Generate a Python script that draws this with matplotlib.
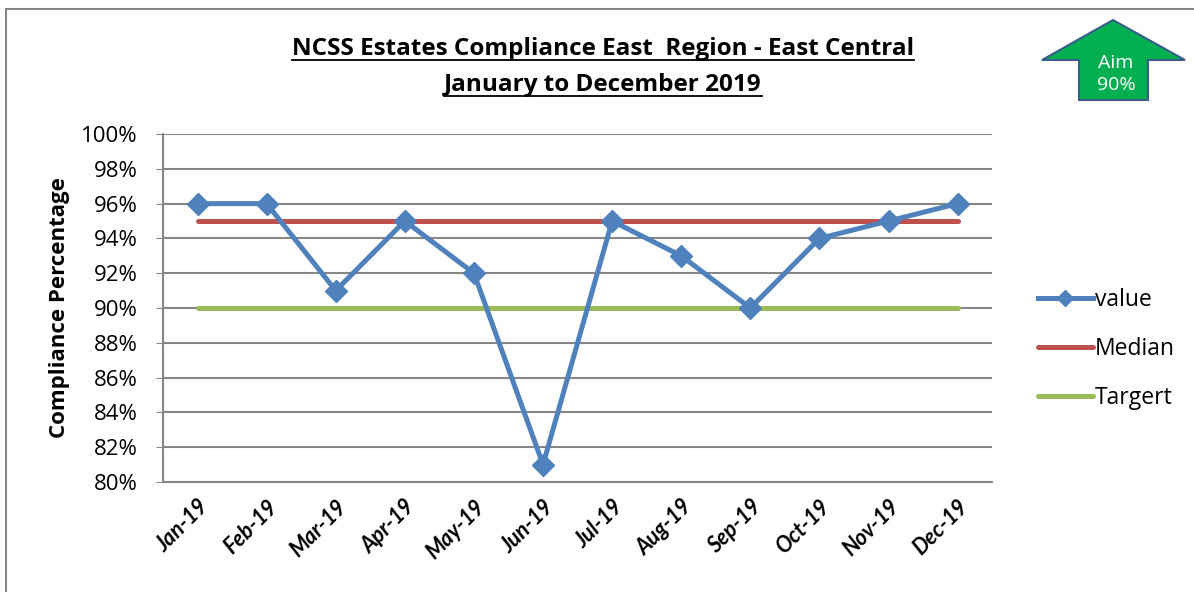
import matplotlib.pyplot as plt
from matplotlib.patches import Polygon
from matplotlib.lines import Line2D

months = ['Jan-19', 'Feb-19', 'Mar-19', 'Apr-19', 'May-19', 'Jun-19',
          'Jul-19', 'Aug-19', 'Sep-19', 'Oct-19', 'Nov-19', 'Dec-19']
value = [96, 96, 91, 95, 92, 81, 95, 93, 90, 94, 95, 96]
median = [95] * 12
target = [90] * 12
yticks = list(range(80, 101, 2))

plt.rcParams['font.family'] = ['Open Sans', 'DejaVu Sans']

fig = plt.figure(figsize=(11.94, 5.92), dpi=100)
ax = fig.add_axes([0.1365, 0.1858, 0.6945, 0.5878])

x = range(len(months))
ax.plot(x, median, color='#C0504D', lw=3.6, solid_capstyle='round', label='Median', zorder=3)
ax.plot(x, target, color='#9BBB59', lw=3.6, solid_capstyle='round', label='Targert', zorder=3)
ax.plot(x, value, color='#4F81BD', lw=3.6, marker='D', ms=11, mec='#4F81BD',
        label='value', zorder=4)

ax.set_xlim(-0.5, len(months) - 0.5)
ax.set_ylim(80, 100)
ax.set_yticks(yticks)
ax.set_yticklabels([f'{t}%' for t in yticks], fontsize=16)
ax.set_xticks(list(x))
ax.set_xticklabels(months, rotation=45, ha='right', rotation_mode='anchor',
                   fontsize=15.5, fontweight='bold', fontstyle='italic', family='Lato')
ax.tick_params(axis='x', length=0, pad=10)
ax.tick_params(axis='y', length=5, color='#868686', pad=13)
ax.grid(axis='y', color='#868686', lw=1.5)
ax.set_axisbelow(True)
for s in ['top', 'right']:
    ax.spines[s].set_visible(False)
for s in ['left', 'bottom']:
    ax.spines[s].set_color('#868686')
    ax.spines[s].set_linewidth(1.5)
ax.set_ylabel('Compliance Percentage', fontsize=16, fontweight='bold', labelpad=8)

h, l = ax.get_legend_handles_labels()
order = [2, 0, 1]
fig.legend([h[i] for i in order], [l[i] for i in order], loc='center left',
           bbox_to_anchor=(0.852, 0.41), frameon=False, fontsize=16.5,
           handlelength=2.4, labelspacing=1.1, handletextpad=0.1, markerscale=0.7)

t1 = fig.text(0.505, 0.918, 'NCSS Estates Compliance East  Region - East Central',
              ha='center', va='center', fontsize=17.5, fontweight='bold')
t2 = fig.text(0.505, 0.857, 'January to December 2019',
              ha='center', va='center', fontsize=17.5, fontweight='bold')

# chart border (top and left visible)
fig.add_artist(Line2D([0.005, 0.005], [0.0, 0.985], transform=fig.transFigure,
                      color='#868686', lw=1.5))
fig.add_artist(Line2D([0.005, 1.0], [0.985, 0.985], transform=fig.transFigure,
                      color='#868686', lw=1.5))

# aim arrow
W, H = 1194, 592
pts = [(1042, 60), (1113, 20), (1185, 60), (1148, 60), (1148, 100), (1079, 100), (1079, 60)]
arrow = Polygon([(px / W, 1 - py / H) for px, py in pts], closed=True,
                transform=fig.transFigure, facecolor='#00B050', edgecolor='#385D8A', lw=1.5)
fig.add_artist(arrow)
fig.text(1116 / W, 1 - 74 / H, 'Aim\n90%', ha='center', va='center', color='white',
         fontsize=14, linespacing=1.3)

# underline title
fig.canvas.draw()
r = fig.canvas.get_renderer()
for t in (t1, t2):
    bb = t.get_window_extent(r)
    y = bb.y0 + 1
    fig.add_artist(Line2D([bb.x0 / W, bb.x1 / W], [y / H, y / H], transform=fig.transFigure,
                          color='black', lw=1.3))

fig.savefig('out.png', dpi=100)
